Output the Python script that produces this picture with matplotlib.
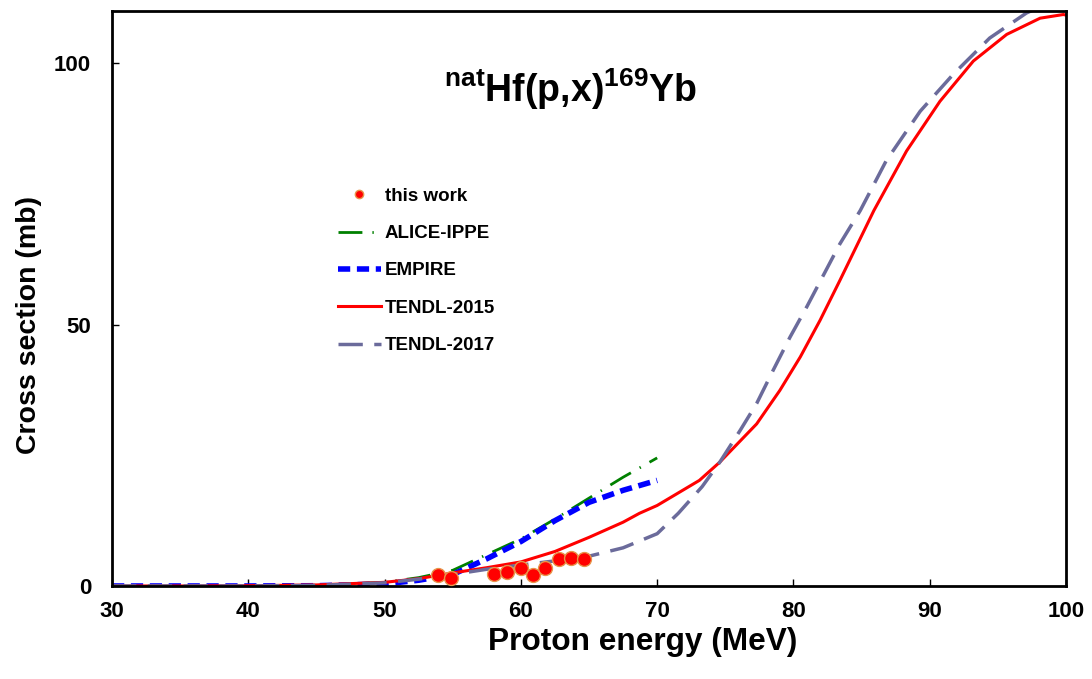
import matplotlib
matplotlib.use("Agg")
import matplotlib.pyplot as plt

plt.rcParams['font.family'] = ['Liberation Sans', 'DejaVu Sans']
plt.rcParams['font.weight'] = 'bold'
plt.rcParams['mathtext.fontset'] = 'custom'
plt.rcParams['mathtext.bf'] = 'Liberation Sans:bold'
plt.rcParams['mathtext.rm'] = 'Liberation Sans:bold'

# measured points (this work)
exp_e = [53.9, 54.9, 58.0, 59.0, 60.0, 60.9, 61.8, 62.8, 63.7, 64.6]
exp_xs = [2.1, 1.5, 2.3, 2.6, 3.4, 2.1, 3.5, 5.15, 5.4, 5.15]

# ALICE-IPPE
alice_e = [45, 50, 52.5, 55, 57.5, 60, 62.5, 65, 67.5, 70]
alice_xs = [0.1, 0.7, 1.6, 3.0, 6.0, 9.0, 12.8, 16.8, 20.8, 24.5]

# EMPIRE
empire_e = [30, 35, 40, 45, 50, 52.5, 55, 57.5, 60, 62.5, 65, 67.5, 70]
empire_xs = [0, 0, 0, 0.05, 0.4, 1.1, 2.2, 5.2, 8.5, 12.5, 16.0, 18.3, 20.2]

# TENDL-2015
t15_e = [30, 35, 40, 45, 50, 52.5, 55, 57.5, 60, 62.5, 65, 67.5, 68.7, 70, 73.1,
         74.6, 77.3, 79.0, 80.5, 81.95, 83.4, 85.9, 88.3, 90.75, 93.2, 95.65,
         98.1, 99.8, 100]
t15_xs = [0, 0, 0.05, 0.2, 0.7, 1.4, 2.5, 3.5, 4.6, 6.6, 9.3, 12.2, 13.9, 15.4, 20.2,
          23.7, 31.0, 37.4, 43.8, 50.8, 58.4, 71.8, 83.2, 92.7, 100.4, 105.5,
          108.6, 109.3, 109.2]

# TENDL-2017
t17_e = [30, 35, 40, 45, 50, 52.5, 55, 57.5, 60, 62.5, 65, 67.5, 70, 71.55, 73.3,
         74.6, 76.1, 77.3, 78.5, 79.75, 81.0, 83.4, 84.9, 86.8, 89.3, 91.7, 94.4,
         97.1, 100]
t17_xs = [0, 0, 0, 0.1, 0.6, 1.3, 2.2, 3.2, 4.0, 4.8, 5.7, 7.3, 10.0, 13.9, 19.0,
          23.7, 29.8, 34.9, 41.2, 47.6, 53.5, 65.4, 71.8, 81.3, 90.8, 97.8, 104.8,
          109.6, 113.0]

fig = plt.figure(figsize=(10.92, 6.79), dpi=100)
ax = fig.add_axes([0.1026, 0.137, 0.8736, 0.847])

ax.plot(alice_e, alice_xs, color='#008000', lw=2, dashes=(8.6, 3.6, 0.5, 3.6), label='ALICE-IPPE')
ax.plot(empire_e, empire_xs, color='#0000ff', lw=4, dashes=(2.2, 1.2), label='EMPIRE')
ax.plot(t15_e, t15_xs, color='#ff0000', lw=2.2, label='TENDL-2015')
ax.plot(t17_e, t17_xs, color='#6b6b9b', lw=2.5, dashes=(7, 3.3), label='TENDL-2017')
ax.plot(exp_e, exp_xs, 'o', color='#ff0000', mec='#e8944a', mew=1, ms=10,
        label='this work', zorder=5)

ax.set_xlim(30, 100)
ax.set_ylim(0, 110)
ax.set_xticks(range(30, 101, 10))
ax.set_yticks([0, 50, 100])
ax.tick_params(direction='in', length=5, width=1, labelsize=16)
ax.tick_params(axis='x', pad=11)
ax.tick_params(axis='y', pad=15)
for lab in ax.get_xticklabels() + ax.get_yticklabels():
    lab.set_fontweight('bold')
for sp in ax.spines.values():
    sp.set_linewidth(2)

ax.set_xlabel('Proton energy (MeV)', fontsize=22.8, fontweight='bold')
ax.set_ylabel('Cross section (mb)', fontsize=20.5, fontweight='bold')
ax.xaxis.set_label_coords(0.556, -0.071)
ax.yaxis.set_label_coords(-0.0734, 0.454)

ax.text(0.481, 0.863, r'$\mathbf{^{nat}Hf(p{,}x)^{169}Yb}$', transform=ax.transAxes,
        fontsize=27, ha='center', va='center')

handles, labels = ax.get_legend_handles_labels()
order = [4, 0, 1, 2, 3]
leg = ax.legend([handles[i] for i in order], [labels[i] for i in order],
                loc='upper left', bbox_to_anchor=(0.219, 0.722), frameon=False,
                prop={'size': 13.5, 'weight': 'bold'}, handlelength=2.3,
                labelspacing=1.08, markerscale=0.6, handletextpad=0.2)

fig.savefig('out.png', dpi=100)
